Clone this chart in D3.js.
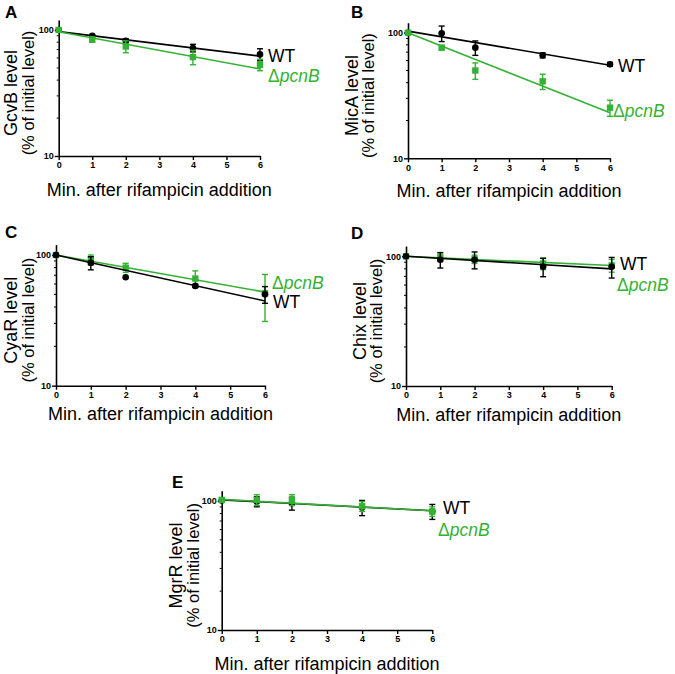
<!DOCTYPE html>
<html><head><meta charset="utf-8">
<script src="https://cdn.jsdelivr.net/npm/d3@7"></script>
<style>
body{margin:0;background:#fff;}
svg text{font-family:"Liberation Sans",Arial,Helvetica,sans-serif;}
</style></head>
<body><svg id="c" width="675" height="674"></svg>
<script>
const times = [0, 1, 2, 4, 6];
const xTicks = [0, 1, 2, 3, 4, 5, 6];
const yTicks = [10, 100];
const yMinorTicks = [20, 30, 40, 50, 60, 70, 80, 90];
const panelLetters = ["A", "B", "C", "D", "E"];
const rnaNames = ["GcvB", "MicA", "CyaR", "Chix", "MgrR"];
const xTitle = "Min. after rifampicin addition";

// mean values (% of initial level)
const gcvbWT   = [100, 90, 82, 72, 64];
const gcvbPcnB = [100, 84, 74, 61, 53];
const micaWT   = [100, 99, 76, 66, 56];
const micaPcnB = [100, 76, 50, 41, 25.3];
const cyarWT   = [100, 87, 67.5, 58, 50];
const cyarPcnB = [100, 92, 80, 66, 51];
const chixWT   = [100, 94, 94, 83, 83];
const chixPcnB = [100, 97.6, 95, 88, 85];
const mgrrWT   = [101, 99, 96, 89, 83];
const mgrrPcnB = [102, 102, 102, 91, 83];

// error bars (±)
const gcvbWTErr   = [0, 2, 3, 5, 7];
const gcvbPcnBErr = [0, 4, 8, 8, 5.5];
const micaWTErr   = [0, 14, 10, 3, 2];
const micaPcnBErr = [0, 3, 7.5, 5.7, 3.7];
const cyarWTErr   = [0, 10, 0.5, 1.5, 7.3];
const cyarPcnBErr = [0, 8, 6.4, 9.6, 20];
const chixWTErr   = [0, 12.8, 14, 13.4, 15];
const chixPcnBErr = [0, 6.5, 7, 9, 9.6];
const mgrrWTErr   = [0, 8.8, 11, 12, 11];
const mgrrPcnBErr = [0, 9.8, 9.8, 8, 7];

// decay fit lines: value at t=0 and t=6
const fitWT   = [[97, 62], [103, 55], [100, 44.5], [100, 80], [102, 84]];
const fitPcnB = [[97, 49], [100, 23], [100, 52], [100, 85], [103, 84]];

const meansWT = [gcvbWT, micaWT, cyarWT, chixWT, mgrrWT];
const meansPcnB = [gcvbPcnB, micaPcnB, cyarPcnB, chixPcnB, mgrrPcnB];
const errsWT = [gcvbWTErr, micaWTErr, cyarWTErr, chixWTErr, mgrrWTErr];
const errsPcnB = [gcvbPcnBErr, micaPcnBErr, cyarPcnBErr, chixPcnBErr, mgrrPcnBErr];

const GREEN = "#33b233";

// layout per panel
const layout = [
  {x0:58.7, x6:260, y10:156, y100:30, lx:5, ly:18, tY:196, y1x:17, y2x:34, wt:[268,62], pc:[268,82], greenTop:true},
  {x0:408, x6:610, y10:158.3, y100:32.7, lx:351, ly:18, tY:197, y1x:358, y2x:374, wt:[618,72], pc:[613,117], greenTop:true},
  {x0:56, x6:265, y10:385.7, y100:255, lx:5, ly:238, tY:420, y1x:17, y2x:34, wt:[273,308], pc:[272,289], greenTop:false},
  {x0:406, x6:611.7, y10:386, y100:256.3, lx:351, ly:239, tY:421, y1x:366, y2x:382, wt:[620,270], pc:[617,291], greenTop:false},
  {x0:221.7, x6:432.3, y10:630, y100:501, lx:172, ly:488, tY:670, y1x:182, y2x:199, wt:[443,514], pc:[438,536], greenTop:true}
];

const svg = d3.select("#c");

layout.forEach((L, i) => {
  const g = svg.append("g");
  const x = d3.scaleLinear().domain([0, 6]).range([L.x0, L.x6]);
  const dec = L.y10 - L.y100;
  const yTop = L.y10 - dec * Math.log10(12);
  const y = d3.scaleLog().domain([10, 120]).range([L.y10, yTop]);

  // y axis major
  const ya = g.append("g").attr("transform", `translate(${L.x0},0)`)
    .call(d3.axisLeft(y).tickValues(yTicks).tickFormat(d3.format("d")).tickSize(4).tickPadding(1).tickSizeOuter(0));
  ya.select(".domain").attr("stroke-width", 1.6);
  ya.selectAll(".tick line").attr("stroke-width", 1.4);
  ya.selectAll(".tick text").attr("font-size", 9).attr("font-weight", "bold")
    .attr("font-family", "Liberation Sans, Arial, sans-serif");
  // minor ticks
  g.append("g").selectAll("line").data(yMinorTicks).join("line")
    .attr("x1", L.x0 - 2).attr("x2", L.x0).attr("y1", d => y(d)).attr("y2", d => y(d))
    .attr("stroke", "#000").attr("stroke-width", 1);

  // x axis
  const xa = g.append("g").attr("transform", `translate(0,${L.y10})`)
    .call(d3.axisBottom(x).tickValues(xTicks).tickFormat(d3.format("d")).tickSize(4).tickPadding(2).tickSizeOuter(0));
  xa.select(".domain").attr("stroke-width", 1.6);
  xa.selectAll(".tick line").attr("stroke-width", 1.4);
  xa.selectAll(".tick text").attr("font-size", 9).attr("font-weight", "bold")
    .attr("font-family", "Liberation Sans, Arial, sans-serif");

  // titles
  g.append("text").attr("x", L.lx).attr("y", L.ly).attr("font-size", 17).attr("font-weight", "bold")
    .text(panelLetters[i]);
  g.append("text").attr("x", (L.x0 + L.x6) / 2).attr("y", L.tY).attr("text-anchor", "middle")
    .attr("font-size", 18).text(xTitle);
  const yc = (L.y10 + yTop) / 2 + 5;
  g.append("text").attr("transform", `translate(${L.y1x},${yc}) rotate(-90)`)
    .attr("text-anchor", "middle").attr("font-size", 18).text(rnaNames[i] + " level");
  g.append("text").attr("transform", `translate(${L.y2x},${yc}) rotate(-90)`)
    .attr("text-anchor", "middle").attr("font-size", 16.5).text("(% of initial level)");

  function series(vals, errs, fit, color, shape) {
    const s = g.append("g");
    s.append("line").attr("x1", x(0)).attr("x2", x(6)).attr("y1", y(fit[0])).attr("y2", y(fit[1]))
      .attr("stroke", color).attr("stroke-width", 1.6);
    const pts = times.map((t, k) => ({t, v: vals[k], e: errs[k]}));
    const eb = s.selectAll("g.eb").data(pts.filter(d => d.e > 1)).join("g");
    eb.append("line").attr("x1", d => x(d.t)).attr("x2", d => x(d.t))
      .attr("y1", d => y(d.v + d.e)).attr("y2", d => y(d.v - d.e)).attr("stroke", color).attr("stroke-width", 1.4);
    [1, -1].forEach(sg => {
      eb.append("line").attr("x1", d => x(d.t) - 3).attr("x2", d => x(d.t) + 3)
        .attr("y1", d => y(d.v + sg * d.e)).attr("y2", d => y(d.v + sg * d.e))
        .attr("stroke", color).attr("stroke-width", 1.4);
    });
    if (shape === "circle") {
      s.selectAll("circle").data(pts).join("circle").attr("cx", d => x(d.t)).attr("cy", d => y(d.v))
        .attr("r", 3.3).attr("fill", color);
    } else {
      s.selectAll("rect").data(pts).join("rect").attr("x", d => x(d.t) - 3.2).attr("y", d => y(d.v) - 3.2)
        .attr("width", 6.4).attr("height", 6.4).attr("fill", color);
    }
  }
  const drawWT = () => series(meansWT[i], errsWT[i], fitWT[i], "#000", "circle");
  const drawP = () => series(meansPcnB[i], errsPcnB[i], fitPcnB[i], GREEN, "square");
  if (L.greenTop) { drawWT(); drawP(); } else { drawP(); drawWT(); }

  // labels
  g.append("text").attr("x", L.wt[0]).attr("y", L.wt[1]).attr("font-size", 17.5).text("WT");
  const pt = g.append("text").attr("x", L.pc[0]).attr("y", L.pc[1]).attr("font-size", 17.5).attr("fill", GREEN);
  pt.append("tspan").text("Δ");
  pt.append("tspan").attr("font-style", "italic").text("pcnB");
});
</script></body></html>
